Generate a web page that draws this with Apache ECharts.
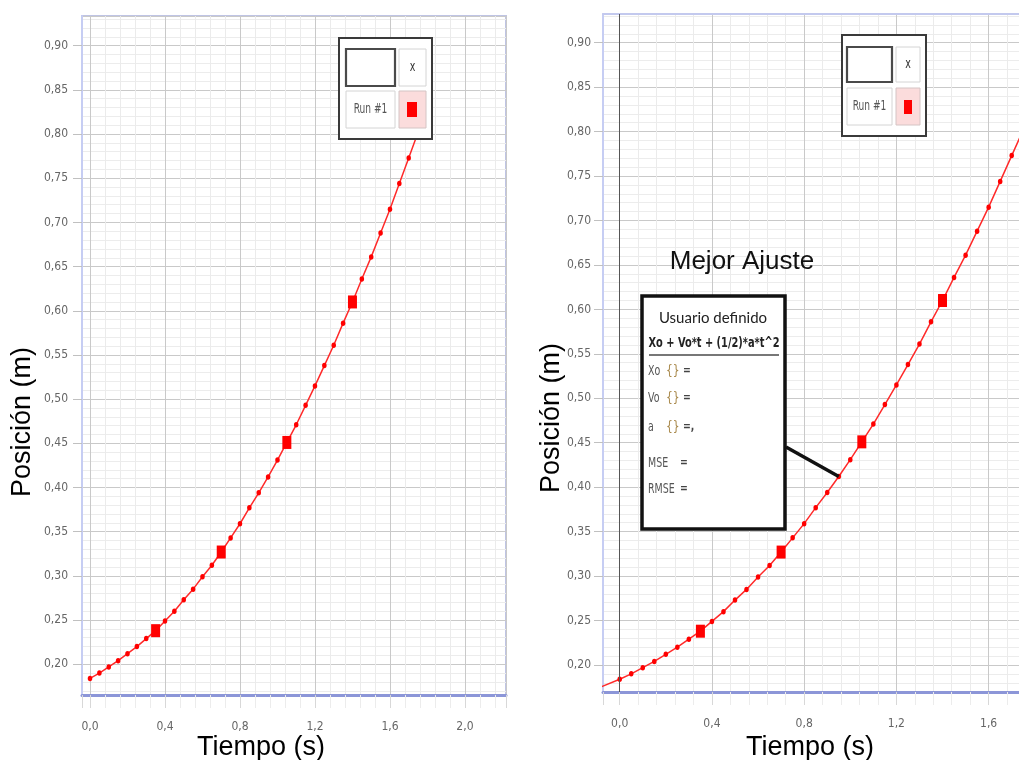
<!DOCTYPE html>
<html><head><meta charset="utf-8">
<script src="https://cdn.jsdelivr.net/npm/echarts@6/dist/echarts.min.js"></script>
<style>html,body{margin:0;padding:0;background:#fff;overflow:hidden}#c{width:1019px;height:760px}</style>
</head><body><div id="c"></div>
<script>
// ---- data ----
const times = [0.00,0.05,0.10,0.15,0.20,0.25,0.30,0.35,0.40,0.45,0.50,0.55,0.60,0.65,0.70,0.75,0.80,0.85,0.90,0.95,1.00,1.05,1.10,1.15,1.20,1.25,1.30,1.35,1.40,1.45,1.50,1.55,1.60,1.65,1.70,1.75,1.80];
const positions = [0.184,0.190,0.197,0.204,0.212,0.220,0.229,0.238,0.249,0.260,0.273,0.285,0.299,0.312,0.327,0.343,0.359,0.377,0.394,0.412,0.431,0.451,0.471,0.493,0.515,0.538,0.561,0.586,0.610,0.636,0.661,0.688,0.715,0.744,0.773,0.802,0.832];
const bigMarkerTimes = [0.35,0.70,1.05,1.40];
const fitExtTimes = [-0.08,0.00];
const fitExtPositions = [0.1755,0.184];
const pointedTime = 0.95;
const xTickStep = 0.4;
const yTickStep = 0.05;
const xTitle = 'Tiempo (s)';
const yTitle = 'Posición (m)';
const fitTitle = 'Mejor Ajuste';
const fitModel = 'Usuario definido';
const fitFormula = 'Xo + Vo*t + (1/2)*a*t^2';
const fitParams = [['Xo','{}','='],['Vo','{}','='],['a','{}','=,'],['MSE','','='],['RMSE','','=']];
const legendRun = 'Run #1';
const legendX = 'x';

const NARROW = '"Liberation Sans Narrow","DejaVu Sans Condensed",sans-serif';
const SANS = '"Liberation Sans",Arial,sans-serif';

function seriesData(){
  return times.map((t,i)=>{
    const big = bigMarkerTimes.some(b=>Math.abs(b-t)<1e-9);
    return {value:[t,positions[i]], symbol: big?'rect':'circle', symbolSize: big?[9,13]:[4.5,5.5]};
  });
}
const fmtX = v => v.toFixed(1).replace('.',',');
const fmtY = v => v.toFixed(2).replace('.',',');

function xAxisCfg(idx,min,max){
  return {type:'value',gridIndex:idx,min:min,max:max,minInterval:xTickStep,maxInterval:xTickStep,
    axisLine:{show:true,onZero:false,lineStyle:{color:'#8c96d8',width:3}},
    axisTick:{show:true,length:13,lineStyle:{color:'#d8d8d8'}},
    minorTick:{show:true,splitNumber:5,length:13,lineStyle:{color:'#ececec'}},
    axisLabel:{margin:26,color:'#666',fontSize:12,fontFamily:NARROW,formatter:fmtX,showMinLabel:false,showMaxLabel:false},
    splitLine:{show:true,lineStyle:{color:'#c9c9c9',width:1}},
    minorSplitLine:{show:true,lineStyle:{color:'#ebebeb',width:1}}};
}
function topBorderAxis(idx,min,max){
  return {type:'value',gridIndex:idx,position:'top',min:min,max:max,
    axisLine:{show:true,onZero:false,lineStyle:{color:'#c3c9ee',width:2}},
    axisTick:{show:false},axisLabel:{show:false},splitLine:{show:false}};
}
function yAxisCfg(idx,min,max,margin){
  return {type:'value',gridIndex:idx,min:min,max:max,minInterval:yTickStep,maxInterval:yTickStep,
    axisLine:{show:true,onZero:false,lineStyle:{color:'#c6cdf3',width:2}},
    axisTick:{show:true,length:9,lineStyle:{color:'#c0c0c0'}},
    minorTick:{show:false,splitNumber:5},
    axisLabel:{margin:margin,color:'#666',fontSize:12,fontFamily:NARROW,formatter:fmtY,showMinLabel:false,showMaxLabel:false},
    splitLine:{show:true,lineStyle:{color:'#c9c9c9',width:1}},
    minorSplitLine:{show:true,lineStyle:{color:'#ececec',width:1}}};
}

const chart = echarts.init(document.getElementById('c'),null,{renderer:'canvas'});
chart.setOption({
  animation:false,
  backgroundColor:'#fff',
  grid:[
    {left:82,top:16,width:424,height:679,outerBoundsMode:'none',show:true,borderColor:'#bfc4e4',borderWidth:2,backgroundColor:'transparent'},
    {left:603,top:14,width:524,height:678,outerBoundsMode:'none',show:false}
  ],
  xAxis:[xAxisCfg(0,-0.0427,2.219), xAxisCfg(1,-0.0724,2.2), topBorderAxis(1,-0.0724,2.2)],
  yAxis:[yAxisCfg(0,0.1652,0.9336,14), yAxisCfg(1,0.1696,0.9323,12)],
  series:[
    {type:'line',xAxisIndex:0,yAxisIndex:0,data:seriesData(),lineStyle:{color:'#ff2a2a',width:1.5},itemStyle:{color:'#ff0000'},z:3},
    {type:'line',xAxisIndex:1,yAxisIndex:1,data:fitExtTimes.map((t,i)=>[t,fitExtPositions[i]]),showSymbol:false,lineStyle:{color:'#ff2a2a',width:1.5},z:3},
    {type:'line',xAxisIndex:1,yAxisIndex:1,data:seriesData(),lineStyle:{color:'#ff2a2a',width:1.5},itemStyle:{color:'#ff0000'},z:3,
      markLine:{silent:true,symbol:'none',label:{show:false},lineStyle:{color:'#555',type:'solid',width:1},data:[{xAxis:0}]}}
  ]
});

function legendBox(o){
  const els=[];
  els.push({type:'rect',shape:{x:o.ox,y:o.oy,width:o.ow,height:o.oh},style:{fill:'#fff',stroke:'#3a3a3a',lineWidth:2},z:100});
  els.push({type:'rect',shape:{x:o.c1x,y:o.r1y,width:o.c1w,height:o.r1h},style:{fill:'#fff',stroke:'#4a4a4a',lineWidth:2.2},z:101});
  els.push({type:'rect',shape:{x:o.c2x,y:o.r1y,width:o.c2w,height:o.r1h},style:{fill:'#fff',stroke:'#d4d4d4',lineWidth:1},z:101});
  els.push({type:'rect',shape:{x:o.c1x,y:o.r2y,width:o.c1w,height:o.r2h},style:{fill:'#fff',stroke:'#d4d4d4',lineWidth:1},z:101});
  els.push({type:'rect',shape:{x:o.c2x,y:o.r2y,width:o.c2w,height:o.r2h},style:{fill:'#fbdcdc',stroke:'#d4c4c4',lineWidth:1},z:101});
  els.push({type:'rect',shape:{x:o.sx,y:o.sy,width:o.sw,height:o.sh},style:{fill:'#ff0000'},z:102});
  els.push({type:'text',x:o.c2x+o.c2w/2,y:o.r1y+o.r1h/2,scaleX:0.75,style:{text:legendX,fill:'#333',font:'14px '+NARROW,align:'center',verticalAlign:'middle'},z:102});
  els.push({type:'text',x:o.c1x+o.c1w/2,y:o.r2y+o.r2h/2,scaleX:0.72,style:{text:legendRun,fill:'#555',font:'14px '+NARROW,align:'center',verticalAlign:'middle'},z:102});
  return els;
}

const p = chart.convertToPixel({xAxisIndex:1,yAxisIndex:1},[pointedTime, positions[times.indexOf(pointedTime)]]);

const g = [];
g.push(...legendBox({ox:339,oy:38,ow:93,oh:101,c1x:346,c1w:49,c2x:399,c2w:27,r1y:49,r1h:37,r2y:91,r2h:37,sx:407,sy:102,sw:10,sh:15}));
g.push(...legendBox({ox:842,oy:35,ow:84,oh:101,c1x:847,c1w:45,c2x:896,c2w:24,r1y:47,r1h:35,r2y:88,r2h:37,sx:904,sy:100,sw:8,sh:14}));
// axis titles
g.push({type:'text',x:261,y:748,style:{text:xTitle,fill:'#000',font:'27px '+SANS,align:'center',verticalAlign:'middle'},z:100});
g.push({type:'text',x:810,y:748,style:{text:xTitle,fill:'#000',font:'27px '+SANS,align:'center',verticalAlign:'middle'},z:100});
g.push({type:'text',x:23,y:422,rotation:Math.PI/2,style:{text:yTitle,fill:'#000',font:'27px '+SANS,align:'center',verticalAlign:'middle'},z:100});
g.push({type:'text',x:552,y:418,rotation:Math.PI/2,style:{text:yTitle,fill:'#000',font:'27px '+SANS,align:'center',verticalAlign:'middle'},z:100});
// fit annotation
g.push({type:'text',x:742,y:262,style:{text:fitTitle,fill:'#111',font:'26px '+SANS,align:'center',verticalAlign:'middle'},z:100});
g.push({type:'line',shape:{x1:786,y1:447,x2:p[0],y2:p[1]},style:{stroke:'#111',lineWidth:3.5},z:99});
g.push({type:'rect',shape:{x:642,y:296,width:143,height:233},style:{fill:'#fff',stroke:'#111',lineWidth:3.5},z:100});
g.push({type:'text',x:713,y:318,style:{text:fitModel,fill:'#222',font:'15px Lato,"Noto Sans",sans-serif',align:'center',verticalAlign:'middle'},z:101});
g.push({type:'text',x:714,y:343,scaleX:0.78,style:{text:fitFormula,fill:'#222',font:'bold 14px '+NARROW,align:'center',verticalAlign:'middle'},z:101});
g.push({type:'line',shape:{x1:649,y1:355,x2:779,y2:355},style:{stroke:'#777',lineWidth:2},z:101});
const rowY=[371,398,427,463,489];
fitParams.forEach((r,i)=>{
  g.push({type:'text',x:648,y:rowY[i],scaleX:0.75,style:{text:r[0],fill:'#555',font:'14px '+NARROW,verticalAlign:'middle'},z:101});
  if(r[1]) g.push({type:'text',x:666,y:rowY[i],scaleX:0.85,style:{text:r[1],fill:'#a8884a',font:'14px '+NARROW,verticalAlign:'middle'},z:101});
  g.push({type:'text',x:i<3?683:680,y:rowY[i],scaleX:0.8,style:{text:r[2],fill:'#444',font:'bold 13px '+NARROW,verticalAlign:'middle'},z:101});
});
chart.setOption({graphic:{elements:g}});
</script></body></html>
